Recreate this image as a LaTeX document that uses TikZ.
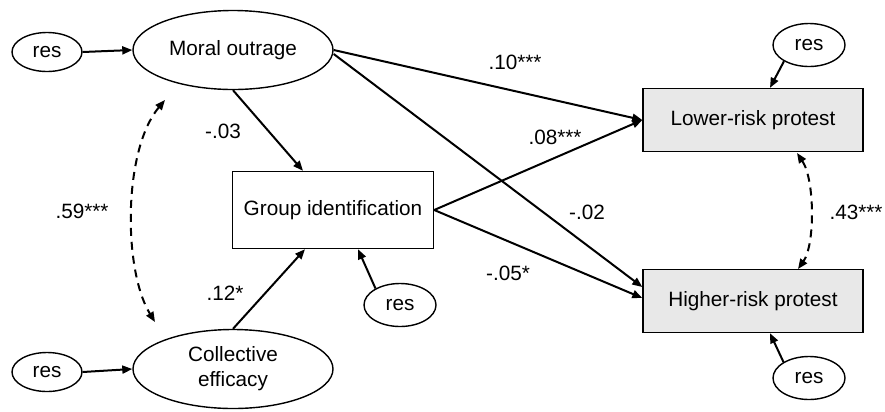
\documentclass[tikz,border=0pt]{standalone}
\usepackage{fontspec}
\setmainfont{Liberation Sans}
\usetikzlibrary{shapes.geometric,arrows.meta}
\definecolor{boxgray}{HTML}{E8E8E8}
\begin{document}
\begin{tikzpicture}[x=1bp,y=-1bp,
  every node/.style={font=\fontsize{20.8}{25}\selectfont},
  latent/.style={ellipse,draw,line width=1.4bp,minimum width=200bp,minimum height=79bp,inner sep=0pt,align=center},
  resid/.style={ellipse,draw,line width=1.4bp,minimum width=72bp,minimum height=43bp,inner sep=0pt},
  residsmall/.style={resid,minimum width=70bp,minimum height=39bp},
  observed/.style={rectangle,draw,line width=1.4bp,inner sep=0pt,minimum width=201bp,minimum height=77bp},
  outcome/.style={observed,fill=boxgray,minimum width=220bp,minimum height=63bp},
  effect/.style={line width=2bp,-{Triangle[length=10bp,width=8bp]}},
  cov/.style={line width=2bp,dash pattern=on 8bp off 6bp,{Triangle[length=10bp,width=8bp]}-{Triangle[length=10bp,width=8bp]}},
  coef/.style={inner sep=0pt}]
\useasboundingbox (0,0) rectangle (885,411);

% latent predictors and mediator
\node[latent] (mo) at (233,50) {Moral outrage};
\node[latent] (ce) at (233,369) {Collective\\efficacy};
\node[observed] (gi) at (333,210) {Group identification};

% outcomes
\node[outcome] (lr) at (753,120) {Lower-risk protest};
\node[outcome] (hr) at (753,301) {Higher-risk protest};

% residual terms
\node[residsmall] (r1) at (47,52) {res};
\node[residsmall] (r2) at (47,372) {res};
\node[resid] (r3) at (400,305) {res};
\node[resid] (r4) at (809,45) {res};
\node[resid] (r5) at (809,378) {res};

% structural paths
\draw[effect] (r1.east) -- (mo.west);
\draw[effect] (r2.east) -- (ce.west);
\draw[effect] (mo.south) -- ([xshift=-30bp]gi.north);
\draw[effect] (ce.north) -- ([xshift=-28bp]gi.south);
\draw[effect] (r3.146) -- ([xshift=25bp]gi.south);
\draw[effect] (mo.east) -- (lr.west);
\draw[effect] ([yshift=-4bp]mo.east) -- ([yshift=14bp]hr.west);
\draw[effect] (gi.east) -- (lr.west);
\draw[effect] (gi.east) -- ([yshift=3bp]hr.west);
\draw[effect] (r4.213) -- ([xshift=17bp]lr.north);
\draw[effect] (r5.148) -- ([xshift=17bp]hr.south);

% covariances
\coordinate (c1) at (165,100);
\coordinate (c2) at (155,322);
\coordinate (c3) at (797,153);
\coordinate (c4) at (798,269);
\draw[cov] (c1) .. controls (123,150) and (123,270) .. (c2);
\draw[cov] (c3) .. controls (815,180) and (815,245) .. (c4);

% coefficients
\node[coef] (k1) at (515,62) {.10***};
\node[coef] (k2) at (555,137) {.08***};
\node[coef] (k3) at (223,131) {-.03};
\node[coef] (k4) at (82,211) {.59***};
\node[coef] (k5) at (587,212) {-.02};
\node[coef] (k6) at (856,212) {.43***};
\node[coef] (k7) at (225,293) {.12*};
\node[coef] (k8) at (508,273) {-.05*};
\end{tikzpicture}
\end{document}
